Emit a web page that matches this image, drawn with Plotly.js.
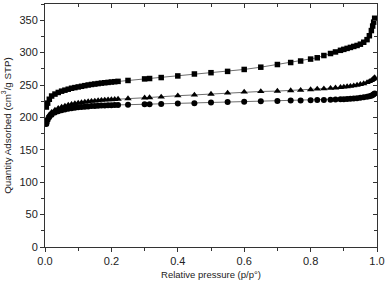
<!DOCTYPE html>
<html><head><meta charset="utf-8">
<script src="https://cdn.plot.ly/plotly-3.0.1.min.js"></script>
<style>html,body{margin:0;padding:0;background:#fff}#chart{width:387px;height:283px}</style>
</head><body><div id="chart"></div>
<script>
const pressure = [0.004,0.008,0.013,0.02,0.03,0.04,0.05,0.06,0.07,0.08,0.09,0.10,0.11,0.12,0.13,0.14,0.15,0.16,0.17,0.18,0.19,0.20,0.21,0.22,
  0.25,0.30,0.315,0.35,0.40,0.45,0.50,0.55,0.60,0.65,0.70,
  0.74,0.77,0.80,0.82,0.84,0.86,
  0.875,0.89,0.90,0.91,0.92,0.93,0.94,0.95,0.96,0.97,
  0.977,0.983,0.987,0.99,0.993];
const squareSeries = [216,222,228,233,236,238.5,240.5,242,243.5,245,246,247,248,249,250,250.8,251.5,252.2,252.9,253.5,254,254.6,255.1,255.6,
  257,259.4,260,261.5,264,267,269,271,274,277.5,281.6,
  284.7,287,290,292,295.5,298.6,
  301,303.5,305,306.5,308,309.5,311,313,316,320,
  326,334,341,347,353];
const triangleSeries = [193,199,204,208,211.5,214,216,217.5,219,220.3,221.3,222.2,223,223.7,224.4,225,225.5,226,226.5,226.9,227.3,227.6,228,228.3,
  229,230.3,230.6,231.6,233.5,234.7,236,237.8,239.3,240,240.6,
  241.5,242,243,244,244.3,245,
  245.7,246.5,247,247.5,248.2,249,250,251,252.3,254,
  255.5,257,258.5,260,261.5];
const circleSeries = [190,196,200.5,204,207.5,209.5,211,212.3,213.4,214.3,215,215.6,216.1,216.6,217,217.4,217.7,218,218.3,218.5,218.7,218.9,219.1,219.3,
  219.6,220.2,220.4,220.8,221.4,222,222.9,223.6,224.3,225,225.5,
  226,226.2,226.5,226.7,226.9,227.3,
  227.6,228,228.2,228.5,228.8,229.2,229.7,230.3,231,231.8,
  232.6,233.6,234.6,235.6,236.8];
const xTickVals = [0,0.2,0.4,0.6,0.8,1.0];
const xTickText = ['0.0','0.2','0.4','0.6','0.8','1.0'];
const yTickVals = [0,50,100,150,200,250,300,350];

function tr(y, sym, sz){
  return {x: pressure, y: y, mode:'lines+markers', type:'scatter',
    line:{color:'#6e6e6e', width:1},
    marker:{symbol:sym, size:sz, color:'#000'}, showlegend:false, hoverinfo:'skip'};
}
const data = [tr(squareSeries,'square',5.5), tr(triangleSeries,'triangle-up',6.5), tr(circleSeries,'circle',6)];
const fnt = {family:'Liberation Sans, Arial, sans-serif', size:11, color:'#222'};
const layout = {
  width:387, height:283, margin:{l:45,r:10,t:4,b:36},
  paper_bgcolor:'#fff', plot_bgcolor:'#fff',
  font: fnt,
  xaxis:{range:[0,1], tickvals:xTickVals, ticktext:xTickText, ticks:'outside', ticklen:4, tickwidth:1, tickcolor:'#333',
    minor:{ticks:'outside', dtick:0.1, ticklen:3, tickcolor:'#333'},
    showline:true, linecolor:'#333', linewidth:1, showgrid:false, zeroline:false,
    title:{text:'Relative pressure (p/p°)', font:{family:'Liberation Sans, Arial, sans-serif', size:9.5, color:'#222'}, standoff:5}},
  yaxis:{range:[0,375], tickvals:yTickVals, ticks:'outside', ticklen:4, tickwidth:1, tickcolor:'#333',
    minor:{ticks:'outside', dtick:25, ticklen:3, tickcolor:'#333'},
    showline:true, linecolor:'#333', linewidth:1, showgrid:false, zeroline:false,
    title:{text:'Quantity Adsorbed (cm<sup>3</sup>/g STP)', font:{family:'Liberation Sans, Arial, sans-serif', size:9.8, color:'#222'}, standoff:6}},
  xaxis2:{overlaying:'x', side:'top', matches:'x', range:[0,1], tickvals:xTickVals, showticklabels:false, ticks:'inside', ticklen:4, tickcolor:'#333',
    minor:{ticks:'inside', dtick:0.1, ticklen:3, tickcolor:'#333'},
    showline:true, linecolor:'#333', linewidth:1, showgrid:false, zeroline:false},
  yaxis2:{overlaying:'y', side:'right', range:[0,375], tickvals:yTickVals, showticklabels:false, ticks:'inside', ticklen:4, tickcolor:'#333',
    minor:{ticks:'inside', dtick:25, ticklen:3, tickcolor:'#333'},
    showline:true, linecolor:'#333', linewidth:1, showgrid:false, zeroline:false}
};
data.push({x:[0.5], y:[-100], xaxis:'x2', yaxis:'y2', mode:'markers', showlegend:false, hoverinfo:'skip', marker:{opacity:0}});
Plotly.newPlot('chart', data, layout, {staticPlot:true, displayModeBar:false});
</script></body></html>
